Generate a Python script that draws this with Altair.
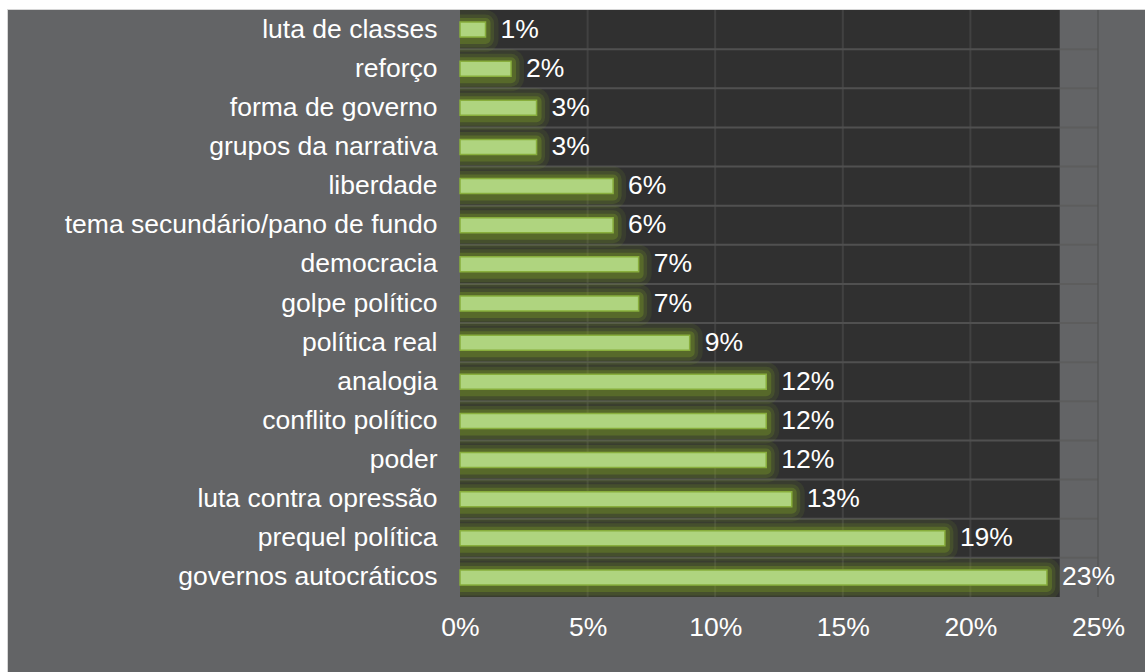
import altair as alt
import pandas as pd

# Themes and their share of mentions, top to bottom
categories = [
    "luta de classes",
    "reforço",
    "forma de governo",
    "grupos da narrativa",
    "liberdade",
    "tema secundário/pano de fundo",
    "democracia",
    "golpe político",
    "política real",
    "analogia",
    "conflito político",
    "poder",
    "luta contra opressão",
    "prequel política",
    "governos autocráticos",
]
shares = [0.01, 0.02, 0.03, 0.03, 0.06, 0.06, 0.07, 0.07, 0.09,
          0.12, 0.12, 0.12, 0.13, 0.19, 0.23]
x_ticks = [0.0, 0.05, 0.10, 0.15, 0.20, 0.25]

FONT = "Liberation Sans"
FS = 26.5
PLOT_W, PLOT_H = 638, 587

df = pd.DataFrame({"tema": categories, "share": shares})
row_lines = pd.DataFrame({"tema": categories[1:]})
col_lines = pd.DataFrame({"share": x_ticks[1:]})
shade = pd.DataFrame({"share": [0.0], "share_end": [max(shares) + 0.005]})
one = pd.DataFrame({"k": [0]})

x_scale = alt.Scale(domain=[0, 0.25], nice=False, zero=True)
y_scale = alt.Scale(paddingInner=0, paddingOuter=0)

# axes sit above the panel layer (zindex=1); they carry labels only
y_axis = alt.Axis(
    title=None, ticks=False, domain=False, grid=False, zindex=1,
    labelFont=FONT, labelFontSize=FS, labelColor="white",
    labelPadding=23, labelLimit=600,
)
x_axis = alt.Axis(
    title=None, values=x_ticks, format=".0%", ticks=False, tickSize=0,
    domain=False, grid=False, zindex=1, labelFont=FONT, labelFontSize=FS,
    labelColor="white", labelPadding=30, labelBaseline="middle",
    labelAlign="center",
)


def xq(field="share"):
    return alt.X(f"{field}:Q", scale=x_scale, axis=x_axis)


def yn(**kw):
    return alt.Y("tema:N", sort=categories, scale=y_scale, axis=y_axis, **kw)


# grey chart panel behind everything, with a thin light frame
panel = alt.Chart(one).mark_rect(
    fill="#636466", stroke="#d6d6d6", strokeWidth=1, clip=False
).encode(
    x=alt.value(-452.5), x2=alt.value(720),
    y=alt.value(-0.5), y2=alt.value(720),
)

# dark plot fill
dark = alt.Chart(shade).mark_rect(fill="#303030").encode(
    x=xq(), x2="share_end:Q",
)

hgrid = alt.Chart(row_lines).mark_rule(
    color="#5b5b5b", strokeWidth=2, opacity=0.75
).encode(y=yn(bandPosition=0))

vgrid = alt.Chart(col_lines).mark_rule(
    color="#515151", strokeWidth=2, opacity=0.55
).encode(x=xq())

base = alt.Chart(df)

# soft olive glow around each bar
glow_layers = []
for sw, op in [(26, 0.10), (17, 0.16), (10, 0.28)]:
    glow_layers.append(
        base.mark_bar(
            size=16, fillOpacity=0, stroke="#8aae24", strokeWidth=sw,
            strokeOpacity=op, strokeJoin="round", clip=True, yOffset=1.5,
        ).encode(x=xq(), y=yn())
    )

bars = base.mark_bar(
    size=15, fill="#afd47f", stroke="#88ae3c", strokeWidth=1.5
).encode(x=xq(), y=yn())

labels = base.mark_text(
    align="left", baseline="middle", dx=15, font=FONT, fontSize=FS,
    color="white",
).encode(
    x=xq(), y=yn(),
    text=alt.Text("share:Q", format=".0%"),
)

chart = alt.layer(
    panel, dark, hgrid, vgrid, *glow_layers, bars, labels
).properties(
    width=PLOT_W,
    height=PLOT_H,
    padding={"left": 460, "top": 10, "right": 47, "bottom": 75},
    autosize=alt.AutoSizeParams(type="none"),
    background="white",
).configure_view(stroke=None)

chart.save("out.html", embed_options={"renderer": "svg", "actions": False})
